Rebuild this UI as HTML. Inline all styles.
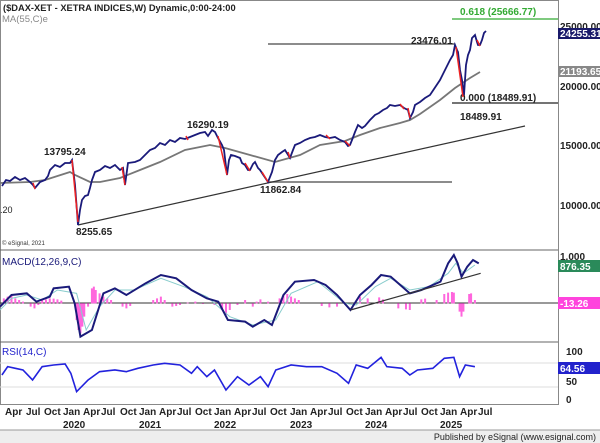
<!DOCTYPE html>
<html><head><meta charset="utf-8"><style>
body{margin:0;background:#fff;}
svg{display:block;font-family:"Liberation Sans",Arial,sans-serif;}
</style></head><body>
<svg width="600" height="443" viewBox="0 0 600 443">
<rect width="600" height="443" fill="#fff"/>
<rect x="0.5" y="0.5" width="558" height="404" fill="none" stroke="#888"/>
<line x1="0" y1="250" x2="558" y2="250" stroke="#666"/>
<line x1="0" y1="342" x2="558" y2="342" stroke="#666"/>
<rect x="0" y="430" width="600" height="13" fill="#eee"/>
<line x1="0" y1="430" x2="600" y2="430" stroke="#999"/>
<text x="3" y="11" font-size="9.3" font-weight="bold" fill="#222">($DAX-XET - XETRA INDICES,W) Dynamic,0:00-24:00</text>
<text x="2" y="22" font-size="9.5" fill="#888">MA(55,C)e</text>
<text x="0" y="213" font-size="9" fill="#222">.20</text>
<text x="2" y="245" font-size="6" fill="#333">© eSignal, 2021</text>
<line x1="268" y1="44" x2="455" y2="44" stroke="#666" stroke-width="1.5"/>
<line x1="268" y1="182" x2="452" y2="182" stroke="#666" stroke-width="1.5"/>
<line x1="452" y1="19" x2="558" y2="19" stroke="#3a3" stroke-width="1.2"/>
<line x1="452" y1="103" x2="558" y2="103" stroke="#222" stroke-width="1.2"/>
<line x1="78" y1="225" x2="525" y2="126" stroke="#333" stroke-width="1.2"/>
<text x="460" y="15" font-size="10" font-weight="bold" fill="#3a3">0.618 (25666.77)</text>
<text x="411" y="44" font-size="10" font-weight="bold" fill="#222">23476.01</text>
<text x="460" y="101" font-size="10" font-weight="bold" fill="#222">0.000 (18489.91)</text>
<text x="460" y="120" font-size="10" font-weight="bold" fill="#222">18489.91</text>
<text x="44" y="155" font-size="10" font-weight="bold" fill="#222">13795.24</text>
<text x="187" y="128" font-size="10" font-weight="bold" fill="#222">16290.19</text>
<text x="260" y="193" font-size="10" font-weight="bold" fill="#222">11862.84</text>
<text x="76" y="235" font-size="10" font-weight="bold" fill="#222">8255.65</text>
<polyline fill="none" stroke="#777" stroke-width="1.8" points="0,183 30,182 45,180 70,172 75,175 90,182 100,182 120,178 140,170 160,162 185,150 210,145 225,148 250,155 275,162 300,155 320,145 345,141 360,135 380,128 400,123 410,120 420,114 440,100 455,88 470,78 480,72"/>
<polyline fill="none" stroke="#1a1a7a" stroke-width="1.8" points="2,186 6,180 10,181 15,177 20,180 25,178 30,182 33,185 35,188 40,182 45,180 48,176 50,170 55,165 60,167 65,163 70,163 72,160 75,185 78,225 80,210 82,200 85,196 88,195 90,188 92,180 95,172 100,170 105,166 110,168 115,165 120,170 123,168 125,185 128,163 135,162 140,160 145,155 150,150 155,148 160,143 165,145 170,140 175,142 180,138 185,139 190,137 195,135 200,133 205,132 208,136 212,130 215,132 218,138 222,145 224,150 227,175 229,160 231,155 235,156 240,158 242,163 245,165 248,170 250,170 253,164 255,162 258,168 260,170 264,176 268,182 272,172 275,160 278,155 282,152 285,150 290,158 293,150 295,145 300,143 305,140 310,138 315,137 320,135 325,137 330,138 335,137 340,140 345,142 348,146 350,145 352,140 355,132 358,125 362,128 365,126 370,120 375,115 379,113 383,110 387,108 390,105 395,106 400,105 404,108 408,110 410,118 413,112 415,105 420,102 425,98 430,95 432,92 436,86 440,80 443,74 445,70 448,64 450,60 453,55 455,45 457,50 458,52 460,70 462,80 464,95 466,65 468,55 470,50 472,38 475,35 477,42 478,45 480,45 482,40 484,33 486,31"/>
<g stroke="#e22" stroke-width="1.5">
<line x1="33" y1="183" x2="35" y2="189"/><line x1="72" y1="160" x2="78" y2="222"/><line x1="122" y1="167" x2="125" y2="185"/><line x1="218" y1="136" x2="227" y2="175"/><line x1="245" y1="163" x2="250" y2="171"/><line x1="262" y1="172" x2="268" y2="182"/><line x1="288" y1="152" x2="290" y2="158"/><line x1="345" y1="141" x2="350" y2="146"/><line x1="408" y1="108" x2="410" y2="118"/><line x1="456" y1="47" x2="463" y2="97"/><line x1="477" y1="40" x2="480" y2="46"/><line x1="186" y1="136" x2="188" y2="140"/><line x1="326" y1="135" x2="330" y2="139"/><line x1="400" y1="104" x2="404" y2="109"/></g>
<g font-size="10" font-weight="bold" fill="#222">
<text x="560" y="30">25000.00</text>
<text x="560" y="90">20000.00</text>
<text x="560" y="149">15000.00</text>
<text x="560" y="209">10000.00</text>
<text x="560" y="260">1,000</text>
<text x="566" y="355">100</text>
<text x="566" y="385">50</text>
<text x="566" y="403">0</text>
</g>
<rect x="558" y="28" width="42" height="11" fill="#1a1a6a"/>
<text x="560" y="37" font-size="10" font-weight="bold" fill="#fff">24255.31</text>
<rect x="558" y="66" width="42" height="11" fill="#888"/>
<text x="560" y="75" font-size="10" font-weight="bold" fill="#fff">21193.65</text>
<rect x="558" y="260" width="42" height="12" fill="#2a8a5a"/>
<text x="560" y="270" font-size="10" font-weight="bold" fill="#fff">876.35</text>
<rect x="558" y="297" width="42" height="12" fill="#ff44dd"/>
<text x="560" y="307" font-size="10" font-weight="bold" fill="#fff">-13.26</text>
<rect x="558" y="362" width="42" height="12" fill="#2222cc"/>
<text x="560" y="372" font-size="10" font-weight="bold" fill="#fff">64.56</text>
<text x="2" y="265" font-size="10" fill="#1a1a7a">MACD(12,26,9,C)</text>
<line x1="0" y1="303" x2="558" y2="303" stroke="#333"/>
<g transform="translate(0,240) scale(0.383,0.3333)">
<path stroke="#ff66dd" stroke-width="2" vector-effect="non-scaling-stroke" fill="none" d="M10 190V175M20 190V170M30 190V168M40 190V175M50 190V180M60 190V185M80 190V200M90 190V205M100 190V195M110 190V180M120 190V178M130 190V175M140 190V176M150 190V178M160 190V182M200 190V240M205 190V270M210 190V280M215 190V260M220 190V230M230 190V200M240 190V145M245 190V140M250 190V150M260 190V160M270 190V170M280 190V175M290 190V180M320 190V200M330 190V205M340 190V198M400 190V180M410 190V175M420 190V170M430 190V180M450 190V200M460 190V198M470 190V195M490 190V188M510 190V185M530 190V192M560 190V195M580 190V210M590 190V225M600 190V210M620 190V195M640 190V180M660 190V200M670 190V185M680 190V178M700 190V185M730 190V175M740 190V165M750 190V162M760 190V170M770 190V175M780 190V180M840 190V198M860 190V202M880 190V200M940 190V170M960 190V175M990 190V172M1000 190V178M1040 190V205M1060 190V208M1070 190V210M1100 190V178M1110 190V176M1140 190V180M1160 190V162M1170 190V158M1180 190V156M1185 190V158M1200 190V215M1205 190V230M1210 190V215M1225 190V162M1230 190V160M1240 190V180"/>
<polyline fill="none" stroke="#8cc" stroke-width="1" vector-effect="non-scaling-stroke" points="0,210 30,175 70,165 110,180 150,150 200,160 225,270 260,200 300,150 350,150 420,115 480,140 540,170 600,230 660,255 720,240 760,160 830,125 900,190 930,195 980,140 1020,115 1070,150 1120,140 1170,100 1190,70 1210,100 1240,75"/>
<polyline fill="none" stroke="#1a1a7a" stroke-width="2" vector-effect="non-scaling-stroke" points="0,200 30,165 70,160 95,185 130,170 140,145 180,140 195,190 210,290 240,270 270,160 300,145 330,165 380,130 420,105 460,115 500,150 540,175 570,185 595,240 640,245 660,260 690,240 710,255 740,165 770,125 820,120 850,135 880,165 915,210 940,165 970,135 995,105 1020,110 1050,140 1070,160 1100,150 1130,135 1150,125 1170,70 1185,45 1195,70 1205,110 1220,80 1235,60 1250,70"/>
<line x1="915" y1="210" x2="1255" y2="100" stroke="#333" stroke-width="1.2" vector-effect="non-scaling-stroke"/>
</g>
<text x="2" y="355" font-size="10" fill="#2222cc">RSI(14,C)</text>
<line x1="0" y1="363" x2="558" y2="363" stroke="#ddd"/>
<line x1="0" y1="387" x2="558" y2="387" stroke="#ddd"/>
<g transform="translate(0,240) scale(0.383,0.3333)">
<polyline fill="none" stroke="#2222dd" stroke-width="1.6" vector-effect="non-scaling-stroke" points="5,405 20,380 40,385 60,390 85,420 110,380 140,375 170,372 185,400 200,455 230,420 260,395 300,390 330,395 360,385 400,375 430,370 470,375 500,400 515,380 540,410 560,390 590,450 620,410 650,435 680,410 700,440 720,390 760,375 800,380 840,380 880,400 910,430 930,375 960,385 995,352 1010,380 1050,385 1070,405 1090,390 1130,385 1160,355 1185,352 1200,410 1215,375 1240,380"/>
</g>
<g font-size="10" font-weight="bold" fill="#222">
<text x="5" y="415">Apr</text><text x="26" y="415">Jul</text>
<text x="44" y="415">Oct</text><text x="63" y="415">Jan</text><text x="83" y="415">Apr</text><text x="101" y="415">Jul</text>
<text x="120" y="415">Oct</text><text x="139" y="415">Jan</text><text x="159" y="415">Apr</text><text x="177" y="415">Jul</text>
<text x="195" y="415">Oct</text><text x="214" y="415">Jan</text><text x="234" y="415">Apr</text><text x="252" y="415">Jul</text>
<text x="270" y="415">Oct</text><text x="290" y="415">Jan</text><text x="310" y="415">Apr</text><text x="328" y="415">Jul</text>
<text x="346" y="415">Oct</text><text x="365" y="415">Jan</text><text x="385" y="415">Apr</text><text x="403" y="415">Jul</text>
<text x="421" y="415">Oct</text><text x="440" y="415">Jan</text><text x="460" y="415">Apr</text><text x="478" y="415">Jul</text>
<text x="63" y="428">2020</text><text x="139" y="428">2021</text><text x="214" y="428">2022</text>
<text x="290" y="428">2023</text><text x="365" y="428">2024</text><text x="440" y="428">2025</text>
</g>
<text x="596" y="440" font-size="9" fill="#222" text-anchor="end">Published by eSignal (www.esignal.com)</text>
</svg>
</body></html>
